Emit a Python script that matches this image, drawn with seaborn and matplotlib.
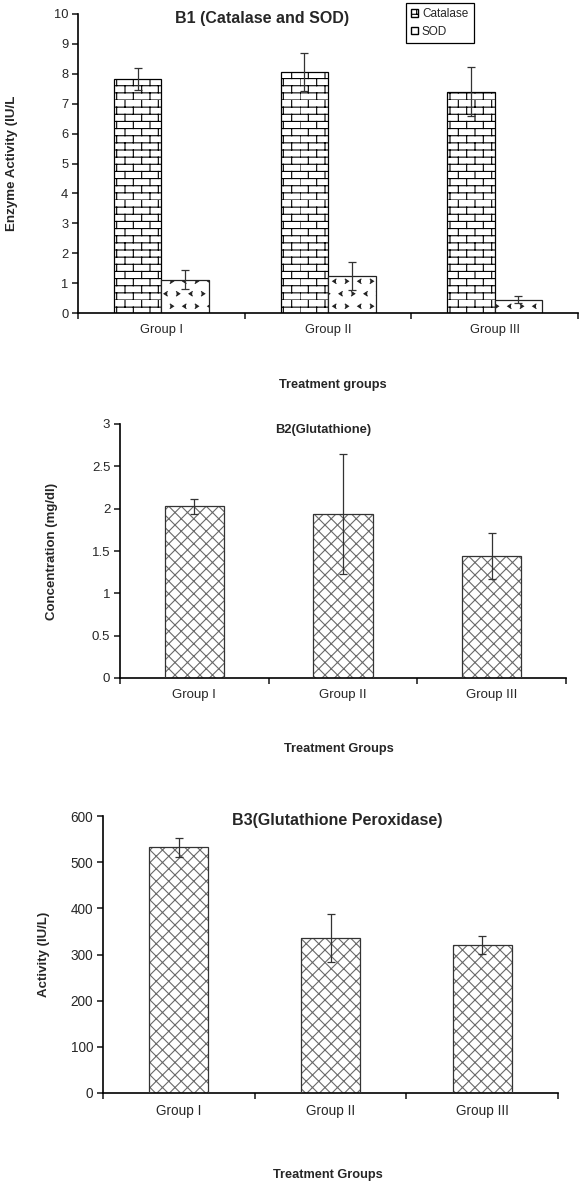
import warnings
import numpy as np
import pandas as pd
import matplotlib
matplotlib.use("Agg")
import matplotlib.pyplot as plt
import matplotlib.hatch as mhatch
from matplotlib.path import Path
from matplotlib.patches import Patch, Rectangle
from matplotlib.ticker import FormatStrFormatter
import seaborn as sns

warnings.filterwarnings("ignore")

groups = ["Group I", "Group II", "Group III"]

# B1: catalase and SOD (IU/L)
catalase = [7.83, 8.05, 7.40]
catalase_sd = [0.37, 0.63, 0.82]
sod = [1.12, 1.25, 0.45]
sod_sd = [0.33, 0.47, 0.13]

# B2: glutathione (mg/dl)
glutathione = [2.03, 1.94, 1.44]
glutathione_sd = [0.09, 0.71, 0.27]

# B3: glutathione peroxidase (IU/L)
gpx = [532, 336, 321]
gpx_sd = [21, 52, 19]


# --- custom hatches (brick, chevron dots, fine diamond cross) ---
class BrickHatch(mhatch.HatchPatternBase):
    rows, cols = 14, 6

    def __init__(self, hatch, density):
        self.num_vertices = (self.rows * 2 + self.rows * self.cols * 2) if "b" in hatch else 0

    def set_vertices_and_codes(self, vertices, codes):
        h, w = 1 / self.rows, 1 / self.cols
        segs = []
        for i in range(self.rows):
            segs.append(((0, i * h), (1, i * h)))
            off = (i % 2) * w / 2
            for k in range(self.cols):
                x = k * w + off
                segs.append(((x, i * h), (x, (i + 1) * h)))
        vertices[:] = np.array(segs).reshape(-1, 2)
        codes[0::2] = Path.MOVETO
        codes[1::2] = Path.LINETO


class ChevronHatch(mhatch.HatchPatternBase):
    n = 8

    def __init__(self, hatch, density):
        self.num_vertices = self.n * self.n * 3 if "v" in hatch else 0

    def set_vertices_and_codes(self, vertices, codes):
        s, d = 1 / self.n, 0.016
        pts = []
        for i in range(self.n):
            for j in range(self.n):
                cx = (j + 0.25 + 0.5 * (i % 2)) * s
                cy = (i + 0.5) * s
                sg = 1 if (i + j) % 2 else -1
                pts += [(cx + sg * d, cy + 1.3 * d), (cx - sg * d, cy), (cx + sg * d, cy - 1.3 * d)]
        vertices[:] = np.array(pts)
        codes[0::3] = Path.MOVETO
        codes[1::3] = Path.LINETO
        codes[2::3] = Path.LINETO


class DiamondHatch(mhatch.HatchPatternBase):
    n = 16

    def __init__(self, hatch, density):
        self.num_vertices = (self.n + 1) * 4 if "c" in hatch else 0

    def set_vertices_and_codes(self, vertices, codes):
        steps = np.linspace(-0.5, 0.5, self.n + 1)
        m = 2 * (self.n + 1)
        vertices[0:m:2, 0] = steps
        vertices[0:m:2, 1] = -steps
        vertices[1:m:2, 0] = 1 + steps
        vertices[1:m:2, 1] = 1 - steps
        vertices[m::2, 0] = steps
        vertices[m::2, 1] = 1 + steps
        vertices[m + 1::2, 0] = 1 + steps
        vertices[m + 1::2, 1] = steps
        codes[0::2] = Path.MOVETO
        codes[1::2] = Path.LINETO


mhatch._hatch_types.extend([BrickHatch, ChevronHatch, DiamondHatch])

sns.set_style("ticks")
plt.rcParams["font.family"] = ["Liberation Sans", "DejaVu Sans"]
plt.rcParams["hatch.linewidth"] = 0.8
plt.rcParams["axes.linewidth"] = 1.2
plt.rcParams["axes.edgecolor"] = "black"

W, H = 581, 1181
fig = plt.figure(figsize=(W / 100, H / 100), dpi=100)


def finish_axis(ax, ymax, ystep, ylabel, title, title_xy, ylab_x, xlab_xy,
                title_size, tick_size, ylab_size):
    ax.set_ylim(0, ymax)
    ax.set_yticks(np.arange(0, ymax + ystep / 2, ystep))
    ax.yaxis.set_major_formatter(FormatStrFormatter("%g"))
    ax.set_xlim(-0.5, 2.5)
    ax.set_xticks([0, 1, 2])
    ax.set_xticklabels(groups)
    ax.set_xticks([-0.5, 0.5, 1.5, 2.5], minor=True)
    ax.tick_params(axis="x", which="major", length=0, pad=8, labelsize=tick_size)
    ax.tick_params(axis="x", which="minor", length=4, width=1.2, direction="out")
    ax.tick_params(axis="y", length=4, width=1.2, direction="out", pad=3, labelsize=tick_size)
    sns.despine(ax=ax)
    ax.set_ylabel(ylabel, fontsize=ylab_size, fontweight="bold")
    ax.yaxis.set_label_coords(ylab_x, 0.5)
    ax.set_xlabel(ax.get_xlabel(), fontsize=9.2, fontweight="bold")
    ax.xaxis.set_label_coords(*xlab_xy)
    ax.text(title_xy[0], title_xy[1], title, transform=ax.transAxes, ha="center", va="center",
            fontsize=title_size, fontweight="bold")


def add_errors(ax, bars, sds):
    xs = [p.get_x() + p.get_width() / 2 for p in bars]
    ys = [p.get_height() for p in bars]
    ax.errorbar(xs, ys, yerr=sds, fmt="none", ecolor="#333333", elinewidth=0.9,
                capsize=3, capthick=0.9, zorder=5)


def outline(ax, bars):
    for p in bars:
        ax.add_patch(Rectangle(p.get_xy(), p.get_width(), p.get_height(), fill=False,
                               edgecolor="#333333", linewidth=0.9, zorder=4))


# ---------------- B1 ----------------
df1 = pd.DataFrame({
    "group": groups * 2,
    "enzyme": ["Catalase"] * 3 + ["SOD"] * 3,
    "value": catalase + sod,
})
ax1 = fig.add_axes([78 / W, (H - 313) / H, 500 / W, 299 / H])
sns.barplot(data=df1, x="group", y="value", hue="enzyme", palette=["white", "white"],
            errorbar=None, width=0.57, edgecolor="black", linewidth=0.9, legend=False, ax=ax1)
bars1 = list(ax1.patches)
for i, p in enumerate(bars1):
    p.set_hatch("b" if i < 3 else "v")
    p.set_edgecolor("black" if i < 3 else "#222222")
add_errors(ax1, bars1, catalase_sd + sod_sd)
ax1.set_xlabel("Treatment groups")
finish_axis(ax1, 10, 1, "Enzyme Activity (IU/L", "B1 (Catalase and SOD)",
            (0.368, 0.985), -0.12, (0.51, -0.222), 11.5, 9.3, 9.6)

leg = fig.legend(handles=[Patch(facecolor="white", edgecolor="black", hatch="b", label="Catalase"),
                          Patch(facecolor="white", edgecolor="black", hatch="v", label="SOD")],
                 loc="upper left", bbox_to_anchor=(406 / W, 1 - 3 / H), frameon=True,
                 fancybox=False, edgecolor="black", framealpha=1, fontsize=8.5,
                 handlelength=0.6, handleheight=0.6, handletextpad=0.3,
                 borderpad=0.45, labelspacing=0.45, borderaxespad=0)
leg.get_frame().set_linewidth(0.9)

# ---------------- B2 ----------------
df2 = pd.DataFrame({"group": groups, "value": glutathione})
ax2 = fig.add_axes([120 / W, (H - 678) / H, 446 / W, 254 / H])
sns.barplot(data=df2, x="group", y="value", color="white", saturation=1,
            errorbar=None, width=0.4, ax=ax2)
bars2 = list(ax2.patches)
for p in bars2:
    p.set_hatch("c")
    p.set_edgecolor("#6a6a6a")
    p.set_linewidth(0)
outline(ax2, bars2)
add_errors(ax2, bars2, glutathione_sd)
ax2.set_xlabel("Treatment Groups")
finish_axis(ax2, 3, 0.5, "Concentration (mg/dl)", "B2(Glutathione)",
            (0.455, 0.976), -0.139, (0.49, -0.256), 9.3, 9.5, 9.5)

# ---------------- B3 ----------------
df3 = pd.DataFrame({"group": groups, "value": gpx})
ax3 = fig.add_axes([103 / W, 88 / H, 455 / W, 277 / H])
sns.barplot(data=df3, x="group", y="value", color="white", saturation=1,
            errorbar=None, width=0.39, ax=ax3)
bars3 = list(ax3.patches)
for p in bars3:
    p.set_hatch("c")
    p.set_edgecolor("#6a6a6a")
    p.set_linewidth(0)
outline(ax3, bars3)
add_errors(ax3, bars3, gpx_sd)
ax3.set_xlabel("Treatment Groups")
finish_axis(ax3, 600, 100, "Activity (IU/L)", "B3(Glutathione Peroxidase)",
            (0.514, 0.982), -0.116, (0.495, -0.274), 11.5, 9.8, 9.5)

fig.savefig("out.png", dpi=100, facecolor="white")
